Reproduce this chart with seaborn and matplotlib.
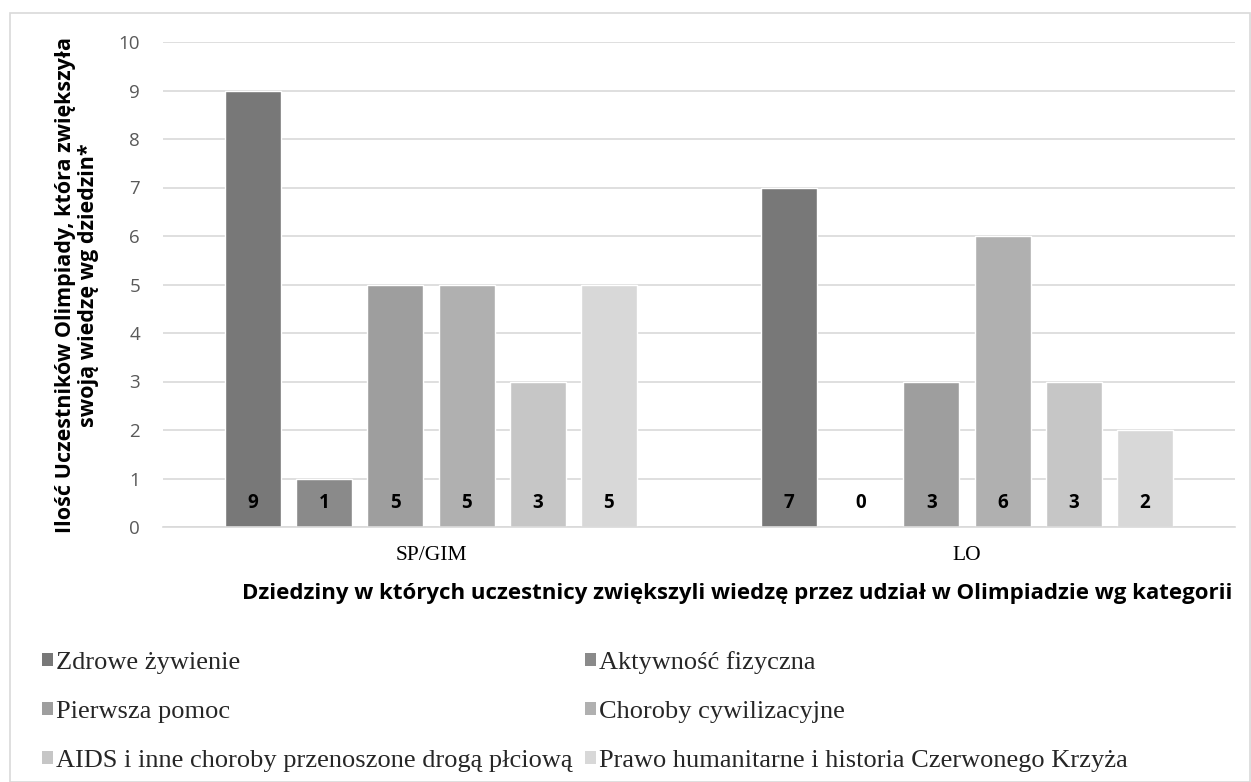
import matplotlib
matplotlib.use("Agg")
import matplotlib.pyplot as plt
import seaborn as sns
import pandas as pd
from matplotlib.patches import Patch, Rectangle

categories = ["SP/GIM", "LO"]
series = ["Zdrowe żywienie", "Aktywność fizyczna", "Pierwsza pomoc",
          "Choroby cywilizacyjne", "AIDS i inne choroby przenoszone drogą płciową",
          "Prawo humanitarne i historia Czerwonego Krzyża"]
values_spgim = [9, 1, 5, 5, 3, 5]
values_lo = [7, 0, 3, 6, 3, 2]
colors = ["#787878", "#8a8a8a", "#9e9e9e", "#b0b0b0", "#c6c6c6", "#d8d8d8"]
yticks = list(range(0, 11))

rows = []
for s, a, b in zip(series, values_spgim, values_lo):
    rows.append({"kat": categories[0], "ser": s, "val": a})
    rows.append({"kat": categories[1], "ser": s, "val": b})
df = pd.DataFrame(rows)

sns.set_theme(style="white")
fig = plt.figure(figsize=(12.51, 7.82), dpi=100)
ax = fig.add_axes([163/1251, 1-527/782, (1235-163)/1251, (527-42)/782])

sns.barplot(data=df, x="kat", y="val", hue="ser", order=categories, hue_order=series,
            palette=colors, width=0.797, gap=0.214, legend=False, ax=ax,
            saturation=1, err_kws={"linewidth": 0})

ax.set_ylim(0, 10)
ax.set_yticks(yticks)
ax.yaxis.grid(True, color="#d9d9d9", linewidth=1.2)
ax.set_axisbelow(True)
for sp in ["left", "right", "top"]:
    ax.spines[sp].set_visible(False)
ax.spines["bottom"].set_color("#d9d9d9")
ax.spines["bottom"].set_linewidth(1.2)
ax.tick_params(axis="y", length=0, pad=16.5, labelsize=13.5, labelcolor="#595959")
ax.tick_params(axis="x", length=0, pad=13.5, labelsize=15.5, labelcolor="#000000")
for t in ax.get_yticklabels():
    t.set_fontfamily("Open Sans")
for t in ax.get_xticklabels():
    t.set_fontfamily("Liberation Serif")
ax.set_xlabel("")
ax.set_ylabel("")

for cont in ax.containers:
    for p in cont.patches:
        val = p.get_height()
        ax.text(p.get_x() + p.get_width()/2, 0.5, f"{int(round(val))}",
                ha="center", va="center", fontsize=13.5, fontweight="bold",
                family="Open Sans", color="#000000")

fig.text(77/1251, 1-285/782,
         "Ilość Uczestników Olimpiady, która zwiększyła\nswoją wiedzę wg dziedzin*",
         rotation=90, ha="center", va="center", multialignment="center",
         fontsize=15.5, fontweight="bold", family="Open Sans", color="#000000",
         linespacing=1.15)
fig.text(737.5/1251, 1-593/782,
         "Dziedziny w których uczestnicy zwiększyli wiedzę przez udział w Olimpiadzie wg kategorii",
         ha="center", va="center", fontsize=16, fontweight="bold",
         family="Open Sans", color="#000000")

handles = [Patch(facecolor=c, edgecolor="none") for c in colors]
order = [0, 2, 4, 1, 3, 5]
fig.legend([handles[i] for i in order], [series[i] for i in order],
           loc="upper left", bbox_to_anchor=(42/1251, 1-651/782), ncol=2,
           frameon=False, prop={"family": "Liberation Serif", "size": 19},
           handlelength=0.42, handleheight=0.42, handletextpad=0.12,
           columnspacing=0.45, labelspacing=1.02, borderpad=0, borderaxespad=0)

fig.patches.append(Rectangle((10/1251, 0.5/782), 1239.5/1251, (782-12-1)/782,
                             transform=fig.transFigure, fill=False,
                             edgecolor="#d9d9d9", linewidth=1.2))

fig.savefig("out.png", dpi=100, facecolor="white")
